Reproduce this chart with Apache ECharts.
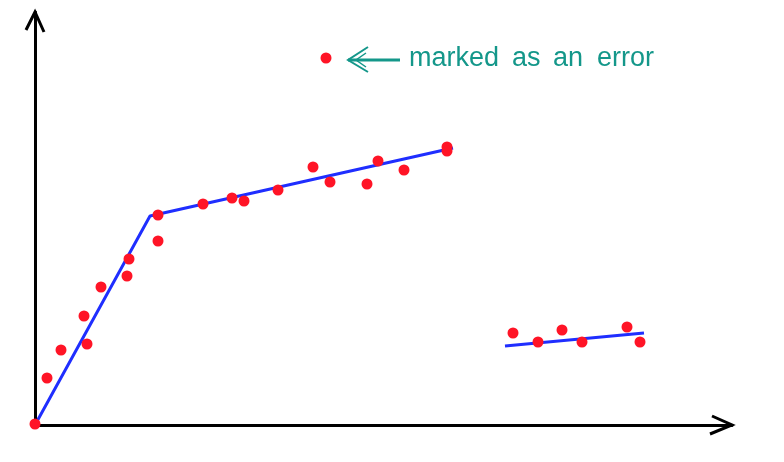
<!DOCTYPE html>
<html><head><meta charset="utf-8">
<script src="https://cdn.jsdelivr.net/npm/echarts@6/dist/echarts.min.js"></script>
<style>html,body{margin:0;padding:0;background:#fff}#c{width:784px;height:462px}</style>
</head><body><div id="c"></div>
<script>
const mainX = [0, 12, 26, 49, 52, 66, 92, 94, 123, 123, 168, 197, 209, 243, 278, 295, 332, 343, 369, 412, 412];
const mainY = [1, 47, 75, 109, 81, 138, 149, 166, 184, 210, 221, 227, 224, 235, 258, 243, 241, 264, 255, 278, 274];
const tailX = [478, 503, 527, 547, 592, 605];
const tailY = [92, 83, 95, 83, 98, 83];
const errorX = [291];
const errorY = [367];
// Fitted piecewise lines
const fit1X = [0, 115, 418];
const fit1Y = [0, 209, 277];
const fit2X = [470, 609];
const fit2Y = [79, 92];
const annotationWords = ['marked', 'as', 'an', 'error'];
const wordOffsets = [83, 186, 227, 271];

const zip = (xs, ys) => xs.map((x, i) => [x, ys[i]]);
const chart = echarts.init(document.getElementById('c'), null, {renderer: 'canvas'});
const xMax = 697, yMax = 413;
const axisCommon = {
  type: 'value', min: 0,
  axisLine: {show: true, onZero: false, lineStyle: {color: '#000', width: 3}},
  axisTick: {show: false}, axisLabel: {show: false}, splitLine: {show: false}
};
const red = '#ff1426', blue = '#1f2eff', teal = '#14978a';
const dot = {symbolSize: 11, itemStyle: {color: red, opacity: 1}, z: 3};
chart.setOption({
  animation: false,
  backgroundColor: '#fff',
  grid: {left: 35, top: 12, right: 784 - 35 - xMax, bottom: 37},
  xAxis: Object.assign({}, axisCommon, {max: xMax}),
  yAxis: Object.assign({}, axisCommon, {max: yMax}),
  series: [
    {type: 'line', data: zip(fit1X, fit1Y), symbol: 'none', lineStyle: {color: blue, width: 3}, z: 2},
    {type: 'line', data: zip(fit2X, fit2Y), symbol: 'none', lineStyle: {color: blue, width: 3}, z: 2},
    Object.assign({type: 'scatter', data: zip(mainX, mainY)}, dot),
    Object.assign({type: 'scatter', data: zip(tailX, tailY)}, dot),
    Object.assign({type: 'scatter', data: zip(errorX, errorY)}, dot)
  ]
});

const p = chart.convertToPixel({seriesIndex: 4}, [errorX[0], errorY[0]]);
const xe = chart.convertToPixel({gridIndex: 0}, [xMax, 0]);
const ye = chart.convertToPixel({gridIndex: 0}, [0, yMax]);
const graphics = [
  {type: 'polyline', shape: {points: [[xe[0] - 20, xe[1] - 9], [xe[0], xe[1]], [xe[0] - 22, xe[1] + 9]]}, style: {stroke: '#000', lineWidth: 3, fill: null}},
  {type: 'polyline', shape: {points: [[ye[0] - 9, ye[1] + 18], [ye[0], ye[1]], [ye[0] + 9, ye[1] + 20]]}, style: {stroke: '#000', lineWidth: 3, fill: null}},
  {type: 'line', shape: {x1: p[0] + 22, y1: p[1] + 2, x2: p[0] + 74, y2: p[1] + 2}, style: {stroke: teal, lineWidth: 3}},
  {type: 'polyline', shape: {points: [[p[0] + 42, p[1] - 11], [p[0] + 22, p[1] + 2], [p[0] + 42, p[1] + 14]]}, style: {stroke: teal, lineWidth: 2, fill: null}},
  {type: 'polyline', shape: {points: [[p[0] + 40, p[1] - 5], [p[0] + 30, p[1] + 2], [p[0] + 40, p[1] + 9]]}, style: {stroke: teal, lineWidth: 1.5, fill: null}}
];
annotationWords.forEach((w, i) => {
  graphics.push({type: 'text', x: p[0] + wordOffsets[i], y: p[1] + 1,
    style: {text: w, fill: teal, font: '27px "Liberation Sans", Arial, sans-serif', textAlign: 'left', textVerticalAlign: 'middle'}});
});
chart.setOption({graphic: graphics});
</script>
</body></html>
